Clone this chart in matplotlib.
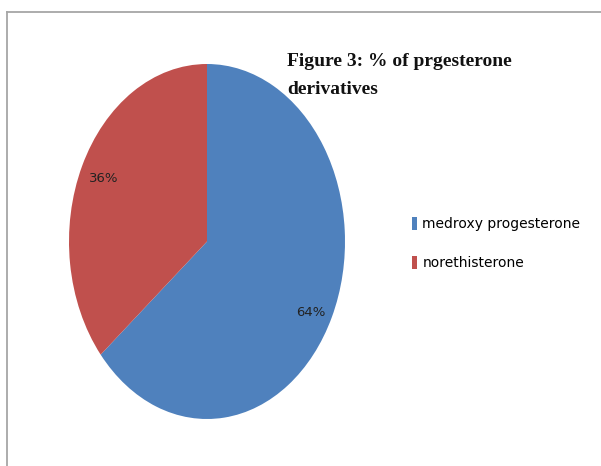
import matplotlib.pyplot as plt
from matplotlib.lines import Line2D
from matplotlib.patches import Patch

# --- data ---
labels = ['medroxy progesterone', 'norethisterone']
values = [64, 36]
colors = ['#4F81BD', '#C0504D']
title_lines = ['Figure 3: % of prgesterone', 'derivatives']

W, H = 601, 466
fig = plt.figure(figsize=(W / 100, H / 100), dpi=100)

# pie area in pixels (left, top, right, bottom) -> stretched vertically
px_l, px_t, px_r, px_b = 69, 64, 345, 419
ax = fig.add_axes([px_l / W, 1 - px_b / H, (px_r - px_l) / W, (px_b - px_t) / H])

wedges, texts, autotexts = ax.pie(
    values, colors=colors, startangle=90, counterclock=False,
    autopct='%1.0f%%', pctdistance=0.83,
    textprops={'fontsize': 9.5, 'color': '#222222'},
    wedgeprops={'linewidth': 0})
ax.set_aspect('auto')
ax.set_xlim(-1, 1)
ax.set_ylim(-1, 1)
ax.axis('off')
# nudge the 64% label a little lower, as in the original
x0, y0 = autotexts[0].get_position()
autotexts[0].set_position((x0, y0 - 0.045))

# title (two lines, serif)
for i, line in enumerate(title_lines):
    fig.text(287 / W, 1 - (62 + 28 * i) / H, line, fontsize=14, fontweight='bold',
             family='Liberation Serif', va='center', ha='left', color='#111111')

# legend
handles = [Patch(facecolor=c, edgecolor='none') for c in colors]
fig.legend(handles, labels, loc='upper left',
           bbox_to_anchor=(412 / W, 1 - 217 / H), frameon=False,
           handlelength=0.35, handleheight=1.1, handletextpad=0.4,
           labelspacing=1.75, borderaxespad=0, borderpad=0,
           prop={'size': 10})

# chart border (left and top edges visible)
fig.add_artist(Line2D([7 / W, 7 / W], [0, 1 - 12 / H], color='#a6a6a6', lw=1.3))
fig.add_artist(Line2D([7 / W, 1], [1 - 12 / H, 1 - 12 / H], color='#a6a6a6', lw=1.3))

fig.savefig('out.png', dpi=100)
